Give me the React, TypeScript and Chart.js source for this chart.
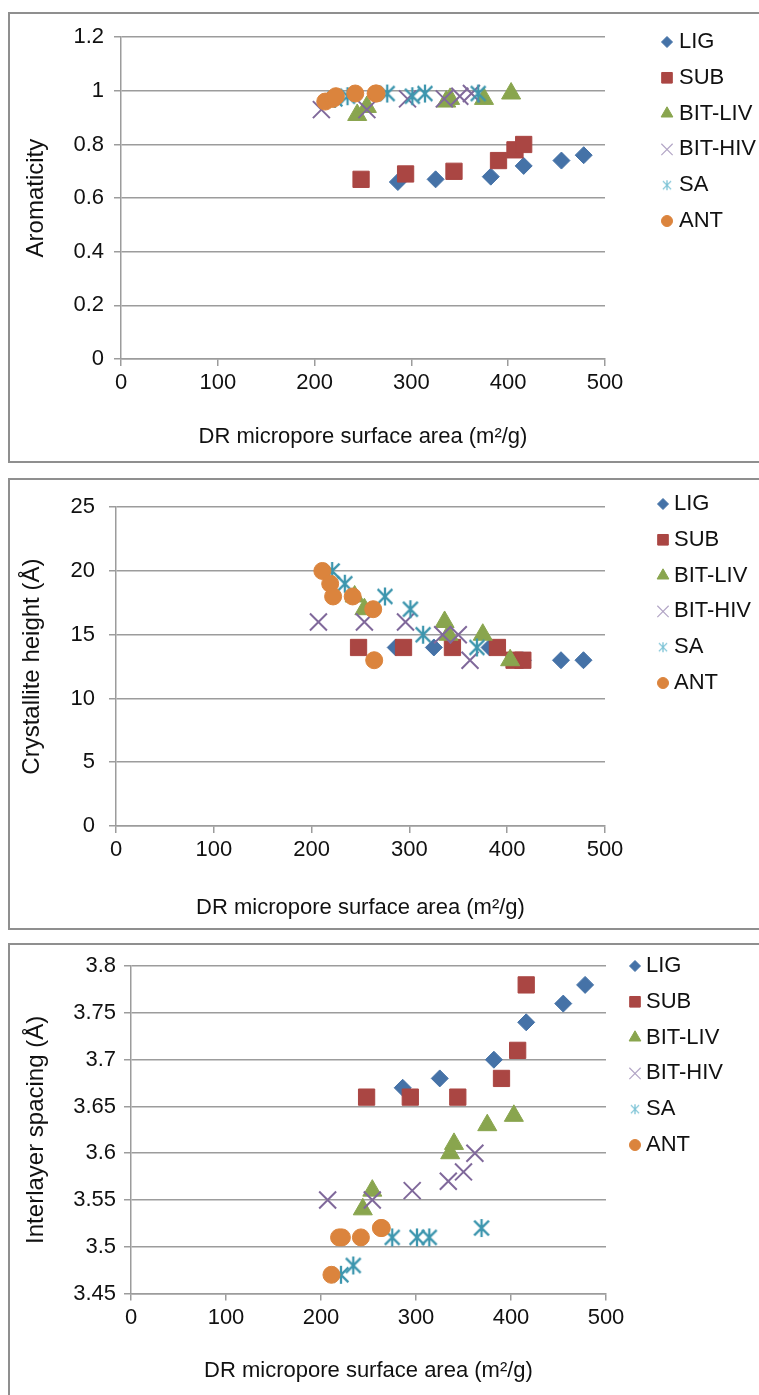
import React, { useEffect, useRef } from 'react';
import { Chart, registerables } from 'chart.js';
import { drawPoint } from 'chart.js/helpers';

Chart.register(...registerables);

// ---------- data ----------
const SERIES_NAMES = ['LIG', 'SUB', 'BIT-LIV', 'BIT-HIV', 'SA', 'ANT'];

// DR micropore surface area (m2/g)
const LIG_X = [286, 325, 382, 416, 455, 478];
const SUB_X = [248, 294, 344, 390, 407, 416];
const BITLIV_X = [244, 254, 336, 340, 375, 403];
const BITHIV_X = [207, 254, 296, 334, 350, 362];
const SA_X = [221, 234, 275, 301, 314, 369];
const ANT_X = [211, 219, 222, 242, 263, 264];

// Aromaticity
const LIG_AROM = [0.66, 0.67, 0.68, 0.72, 0.74, 0.76];
const SUB_AROM = [0.67, 0.69, 0.70, 0.74, 0.78, 0.80];
const BITLIV_AROM = [0.91, 0.94, 0.96, 0.97, 0.97, 0.99];
const BITHIV_AROM = [0.93, 0.93, 0.97, 0.97, 0.98, 0.99];
const SA_AROM = [0.97, 0.98, 0.99, 0.98, 0.99, 0.99];
const ANT_AROM = [0.96, 0.97, 0.98, 0.99, 0.99, 0.99];

// Crystallite height (Å)
const LIG_CRYS = [14, 14, 14, 13, 13, 13];
const SUB_CRYS = [14, 14, 14, 14, 13, 13];
const BITLIV_CRYS = [18, 17, 16, 15, 15, 13];
const BITHIV_CRYS = [16, 16, 16, 15, 15, 13];
const SA_CRYS = [20, 19, 18, 17, 15, 14];
const ANT_CRYS = [20, 19, 18, 18, 17, 13];

// Interlayer spacing (Å)
const LIG_SP = [3.67, 3.68, 3.70, 3.74, 3.76, 3.78];
const SUB_SP = [3.66, 3.66, 3.66, 3.68, 3.71, 3.78];
const BITLIV_SP = [3.54, 3.56, 3.60, 3.61, 3.63, 3.64];
const BITHIV_SP = [3.55, 3.55, 3.56, 3.57, 3.58, 3.60];
const SA_SP = [3.47, 3.48, 3.51, 3.51, 3.51, 3.52];
const ANT_SP = [3.47, 3.51, 3.51, 3.51, 3.52, 3.52];

const X_TICKS = [0, 100, 200, 300, 400, 500];
const AROM_TICKS = [0, 0.2, 0.4, 0.6, 0.8, 1, 1.2];
const CRYS_TICKS = [0, 5, 10, 15, 20, 25];
const SP_TICKS = [3.45, 3.5, 3.55, 3.6, 3.65, 3.7, 3.75, 3.8];

const X_TITLE = 'DR micropore surface area (m²/g)';

// ---------- styles ----------
const FONT = "'Liberation Sans', Arial, Helvetica, sans-serif";
const TEXT = '#111111';
const GRID = '#9c9c9c';
const COLORS = ['#4572A7', '#AA4643', '#89A54E', '#80699B', '#3D96AE', '#DB843D'];

function makeAsterisk(size: number, color: string, lw: number) {
  const c = document.createElement('canvas');
  c.width = size;
  c.height = size;
  const ctx = c.getContext('2d')!;
  ctx.strokeStyle = color;
  ctx.lineWidth = lw;
  const m = size / 2;
  const r = size / 2 - 1;
  const d = r * 0.82;
  ctx.beginPath();
  ctx.moveTo(m, m - r);
  ctx.lineTo(m, m + r);
  ctx.moveTo(m - d, m - d);
  ctx.lineTo(m + d, m + d);
  ctx.moveTo(m + d, m - d);
  ctx.lineTo(m - d, m + d);
  ctx.stroke();
  return c;
}

type Marker = { style: any; radius: number; border: number };

function plotMarkers(): Marker[] {
  return [
    { style: 'rectRot', radius: 8.5, border: 1 },
    { style: 'rect', radius: 11.5, border: 1 },
    { style: 'triangle', radius: 11, border: 1 },
    { style: 'crossRot', radius: 12, border: 2 },
    { style: makeAsterisk(20, COLORS[4], 2.3), radius: 10, border: 0 },
    { style: 'circle', radius: 8.5, border: 1 },
  ];
}

function legendMarkers(): Marker[] {
  return [
    { style: 'rectRot', radius: 5.5, border: 1 },
    { style: 'rect', radius: 7.5, border: 1 },
    { style: 'triangle', radius: 6.8, border: 1 },
    { style: 'crossRot', radius: 8, border: 1.2 },
    { style: makeAsterisk(12, '#7cc3d6', 1.3), radius: 6, border: 0 },
    { style: 'circle', radius: 5.5, border: 1 },
  ];
}

const sideLegend = {
  id: 'sideLegend',
  afterDraw(chart: any, _args: any, opts: any) {
    const ctx = chart.ctx as CanvasRenderingContext2D;
    const markers = legendMarkers();
    ctx.save();
    chart.data.datasets.forEach((ds: any, i: number) => {
      const cx = opts.x;
      const cy = opts.y + i * opts.spacing;
      const mk = markers[i];
      let col = COLORS[i];
      if (i === 3) col = '#b3a6c6';
      ctx.fillStyle = col;
      ctx.strokeStyle = col;
      ctx.lineWidth = mk.border;
      if (typeof mk.style === 'string') {
        drawPoint(ctx, { pointStyle: mk.style, radius: mk.radius, rotation: 0, borderWidth: mk.border } as any, cx, cy);
      } else {
        const img = mk.style as HTMLCanvasElement;
        ctx.drawImage(img, cx - img.width / 2, cy - img.height / 2);
      }
      ctx.fillStyle = TEXT;
      ctx.font = `22px ${FONT}`;
      ctx.textBaseline = 'middle';
      ctx.textAlign = 'left';
      ctx.fillText(ds.label, opts.textX, cy);
    });
    ctx.restore();
  },
};

type PanelSpec = {
  top: number;
  h: number;
  xs: number[][];
  ys: number[][];
  yMin: number;
  yMax: number;
  yTicks: number[];
  yTitle: string;
  plotLeft: number;
  plotRight: number;
  plotTop: number;
  plotBottom: number;
  yTitlePad: number;
  yTickPad: number;
  xTitlePad: number;
  legendX: number;
  legendY: number;
  legendTextX: number;
};

const XS = [LIG_X, SUB_X, BITLIV_X, BITHIV_X, SA_X, ANT_X];

const PANELS: PanelSpec[] = [
  {
    top: 12, h: 451, xs: XS,
    ys: [LIG_AROM, SUB_AROM, BITLIV_AROM, BITHIV_AROM, SA_AROM, ANT_AROM],
    yMin: 0, yMax: 1.2, yTicks: AROM_TICKS, yTitle: 'Aromaticity',
    plotLeft: 111, plotRight: 595, plotTop: 21, plotBottom: 345,
    yTitlePad: 12, yTickPad: 10, xTitlePad: 11,
    legendX: 657, legendY: 28, legendTextX: 669,
  },
  {
    top: 478, h: 452, xs: XS,
    ys: [LIG_CRYS, SUB_CRYS, BITLIV_CRYS, BITHIV_CRYS, SA_CRYS, ANT_CRYS],
    yMin: 0, yMax: 25, yTicks: CRYS_TICKS, yTitle: 'Crystallite height (Å)',
    plotLeft: 106, plotRight: 595, plotTop: 21, plotBottom: 346,
    yTitlePad: 8, yTickPad: 14, xTitlePad: 7,
    legendX: 653, legendY: 24, legendTextX: 664,
  },
  {
    top: 943, h: 456, xs: XS,
    ys: [LIG_SP, SUB_SP, BITLIV_SP, BITHIV_SP, SA_SP, ANT_SP],
    yMin: 3.45, yMax: 3.8, yTicks: SP_TICKS, yTitle: 'Interlayer spacing (Å)',
    plotLeft: 121, plotRight: 596, plotTop: 21, plotBottom: 348.5,
    yTitlePad: 12, yTickPad: 8, xTitlePad: 13,
    legendX: 625, legendY: 21, legendTextX: 636,
  },
];

const CANVAS_W = 756;

function fmt(v: number) {
  return String(Number(Number(v).toFixed(2)));
}

function buildConfig(p: PanelSpec): any {
  const canvasH = p.h - 4;
  const markers = plotMarkers();
  const datasets = SERIES_NAMES.map((name, i) => ({
    label: name,
    data: p.xs[i].map((x, j) => ({ x, y: p.ys[i][j] })),
    pointStyle: markers[i].style,
    pointRadius: markers[i].radius,
    pointHoverRadius: markers[i].radius,
    pointBorderWidth: markers[i].border,
    backgroundColor: COLORS[i],
    borderColor: COLORS[i],
    showLine: false,
    order: SERIES_NAMES.length - i,
  }));
  return {
    type: 'scatter',
    data: { datasets },
    options: {
      responsive: false,
      animation: false,
      events: [],
      layout: { padding: { left: 0, top: p.plotTop, right: CANVAS_W - p.plotRight, bottom: 0 } },
      plugins: {
        legend: { display: false },
        tooltip: { enabled: false },
        sideLegend: { x: p.legendX, y: p.legendY, textX: p.legendTextX, spacing: 35.8 },
      },
      scales: {
        x: {
          type: 'linear',
          min: 0,
          max: 500,
          afterBuildTicks: (s: any) => { s.ticks = X_TICKS.map((v) => ({ value: v })); },
          afterFit: (s: any) => { s.height = canvasH - p.plotBottom; },
          ticks: { color: TEXT, font: { family: FONT, size: 22 }, padding: 4, maxRotation: 0, callback: (v: any) => fmt(v) },
          grid: { display: true, drawOnChartArea: false, drawTicks: true, tickLength: 7, color: GRID, lineWidth: 1.5 },
          border: { display: true, color: GRID, width: 1.5 },
          title: { display: true, text: X_TITLE, color: TEXT, font: { family: FONT, size: 22 }, padding: { top: 0, bottom: p.xTitlePad } },
        },
        y: {
          type: 'linear',
          min: p.yMin,
          max: p.yMax,
          afterBuildTicks: (s: any) => { s.ticks = p.yTicks.map((v) => ({ value: v })); },
          afterFit: (s: any) => { s.width = p.plotLeft; },
          ticks: { color: TEXT, font: { family: FONT, size: 22 }, padding: p.yTickPad, callback: (v: any) => fmt(v) },
          grid: { display: true, drawOnChartArea: true, drawTicks: true, tickLength: 7, color: GRID, lineWidth: 1.5 },
          border: { display: true, color: GRID, width: 1.5 },
          title: { display: true, text: p.yTitle, color: TEXT, font: { family: FONT, size: 24 }, padding: { top: p.yTitlePad, bottom: 0 } },
        },
      },
    },
    plugins: [sideLegend],
  };
}

function Panel({ spec }: { spec: PanelSpec }) {
  const ref = useRef<HTMLCanvasElement | null>(null);
  useEffect(() => {
    if (!ref.current) return;
    const chart = new Chart(ref.current, buildConfig(spec));
    return () => chart.destroy();
  }, [spec]);
  return (
    <div
      style={{
        position: 'absolute',
        left: 8,
        top: spec.top,
        width: 760,
        height: spec.h,
        boxSizing: 'border-box',
        border: '2px solid #8f8f8f',
        background: '#ffffff',
      }}
    >
      <canvas ref={ref} width={CANVAS_W} height={spec.h - 4} style={{ display: 'block' }} />
    </div>
  );
}

export default function App() {
  return (
    <div style={{ position: 'absolute', left: 0, top: 0, width: 759, height: 1395, overflow: 'hidden', background: '#fff' }}>
      {PANELS.map((p, i) => (
        <Panel key={i} spec={p} />
      ))}
    </div>
  );
}
